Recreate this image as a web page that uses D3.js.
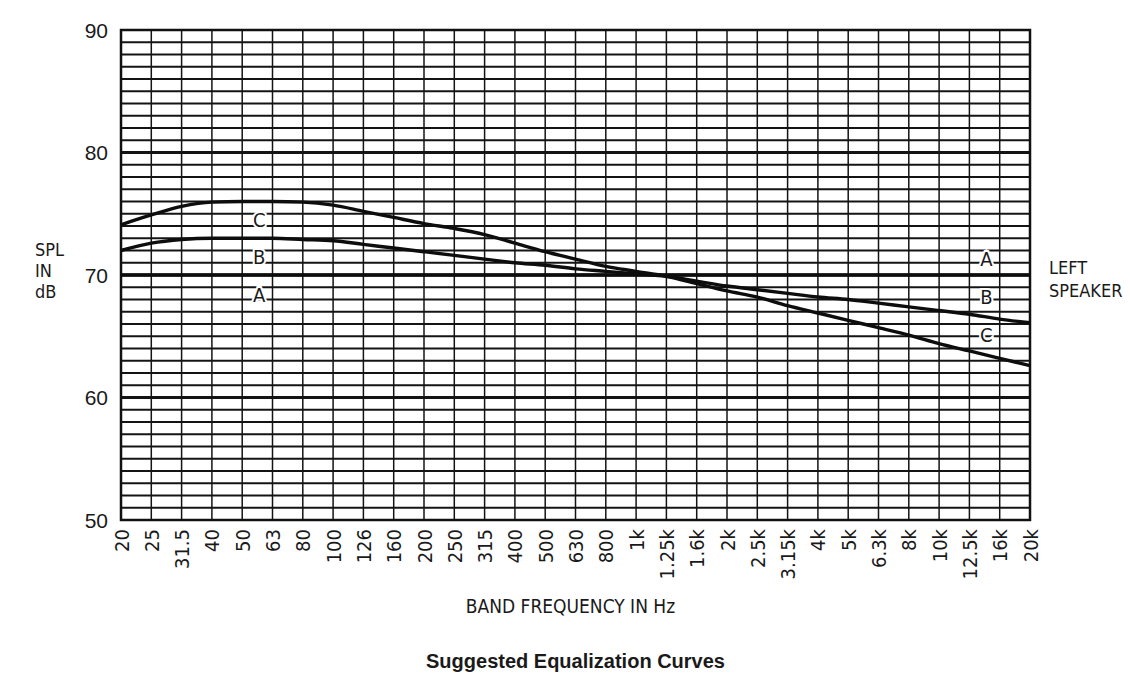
<!DOCTYPE html>
<html lang="en">
<head>
    <meta charset="UTF-8">
    <title>Suggested Equalization Curves</title>
    <script src="https://d3js.org/d3.v7.min.js"></script>
    <style>
        body { margin: 0; background: #fff; }
        text { font-family: "Liberation Sans Narrow", "DejaVu Sans Condensed", "Liberation Sans", sans-serif; fill: #1a1a1a; }
        .axis path { display: none; }
    </style>
</head>
<body>
<div id="vis"></div>
<script>
    // third-octave band centres
    var bands = ["20","25","31.5","40","50","63","80","100","126","160","200","250","315","400","500","630","800",
        "1k","1.25k","1.6k","2k","2.5k","3.15k","4k","5k","6.3k","8k","10k","12.5k","16k","20k"];

    var curveA = [70,70,70,70,70,70,70,70,70,70,70,70,70,70,70,70,70,70,70,70,70,70,70,70,70,70,70,70,70,70,70];
    var curveB = [72,72.6,72.9,73,73,73,72.9,72.8,72.5,72.2,71.9,71.6,71.3,71.0,70.8,70.5,70.3,
        70.1,69.9,69.5,69.1,68.8,68.5,68.2,68.0,67.7,67.4,67.1,66.8,66.4,66.1];
    var curveC = [74.1,74.9,75.6,75.95,76,76,75.95,75.7,75.2,74.7,74.2,73.8,73.3,72.6,71.9,71.3,70.7,
        70.3,69.9,69.3,68.7,68.2,67.5,66.9,66.3,65.7,65.1,64.4,63.8,63.2,62.6];

    var yTicks = [50, 60, 70, 80, 90];

    var width = 1130, height = 674;
    var margin = { top: 30, left: 121, right: 100, bottom: 154 };
    var w = width - margin.left - margin.right;
    var h = height - margin.top - margin.bottom;

    var svg = d3.select("#vis").append("svg")
        .attr("width", width)
        .attr("height", height);

    var g = svg.append("g")
        .attr("transform", "translate(" + margin.left + "," + margin.top + ")");

    var x = d3.scalePoint().domain(bands).range([0, w]);
    var y = d3.scaleLinear().domain([50, 90]).range([h, 0]);

    // minor horizontal grid, every dB
    g.append("g")
        .selectAll("line")
        .data(d3.range(51, 90))
        .enter().append("line")
        .attr("x1", 0).attr("x2", w)
        .attr("y1", function(d) { return y(d); })
        .attr("y2", function(d) { return y(d); })
        .attr("stroke", "#141414")
        .attr("stroke-width", function(d) { return d % 10 == 0 ? 2.8 : 2; });

    // vertical grid, one per band
    g.append("g")
        .selectAll("line")
        .data(bands)
        .enter().append("line")
        .attr("x1", function(d) { return x(d); })
        .attr("x2", function(d) { return x(d); })
        .attr("y1", 0).attr("y2", h)
        .attr("stroke", "#141414")
        .attr("stroke-width", 1.5);

    // frame
    g.append("rect")
        .attr("width", w).attr("height", h)
        .attr("fill", "none")
        .attr("stroke", "#111")
        .attr("stroke-width", 2.5);

    // axes
    var yAxis = g.append("g").attr("class", "axis")
        .call(d3.axisLeft(y).tickValues(yTicks).tickSize(0).tickPadding(13));
    yAxis.selectAll("text")
        .style("font-size", "21px")
        .style("font-family", "'Liberation Sans', sans-serif")
        .attr("dy", "0.35em");

    var xAxis = g.append("g").attr("class", "axis")
        .attr("transform", "translate(0," + h + ")")
        .call(d3.axisBottom(x).tickSize(0));
    xAxis.selectAll("text")
        .style("font-size", "20px")
        .attr("text-anchor", "end")
        .attr("transform", "rotate(-90)")
        .attr("x", -9)
        .attr("y", 0)
        .attr("dy", "0.35em");

    // curves
    var line = d3.line()
        .x(function(d, i) { return x(bands[i]); })
        .y(function(d) { return y(d); })
        .curve(d3.curveMonotoneX);

    [curveA, curveB, curveC].forEach(function(c) {
        g.append("path")
            .datum(c)
            .attr("d", line)
            .attr("fill", "none")
            .attr("stroke", "#0d0d0d")
            .attr("stroke-width", 3.4);
    });

    // curve letters
    var letters = [
        { t: "C", band: "50", v: 74.5 },
        { t: "B", band: "50", v: 71.5 },
        { t: "A", band: "50", v: 68.4 },
        { t: "A", band: "12.5k", v: 71.3 },
        { t: "B", band: "12.5k", v: 68.2 },
        { t: "C", band: "12.5k", v: 65.1 }
    ];
    g.append("g")
        .selectAll("text")
        .data(letters)
        .enter().append("text")
        .attr("x", function(d) { return x(d.band) + 17; })
        .attr("y", function(d) { return y(d.v); })
        .attr("dy", "0.36em")
        .attr("text-anchor", "middle")
        .style("font-size", "20px")
        .style("paint-order", "stroke")
        .style("stroke", "#fff")
        .style("stroke-width", "4px")
        .text(function(d) { return d.t; });

    // side labels
    svg.append("text")
        .attr("x", 35).attr("y", 256)
        .style("font-size", "18px")
        .selectAll("tspan")
        .data(["SPL", "IN", "dB"])
        .enter().append("tspan")
        .attr("x", 35)
        .attr("dy", function(d, i) { return i == 0 ? 0 : 21; })
        .text(function(d) { return d; });

    svg.append("text")
        .attr("x", 1049).attr("y", 274)
        .style("font-size", "18px")
        .selectAll("tspan")
        .data(["LEFT", "SPEAKER"])
        .enter().append("tspan")
        .attr("x", 1049)
        .attr("dy", function(d, i) { return i == 0 ? 0 : 23; })
        .text(function(d) { return d; });

    svg.append("text")
        .attr("x", margin.left + w / 2 - 5).attr("y", 613)
        .attr("text-anchor", "middle")
        .style("font-size", "19px")
        .text("BAND FREQUENCY IN Hz");

    svg.append("text")
        .attr("x", margin.left + w / 2).attr("y", 668)
        .attr("text-anchor", "middle")
        .style("font-size", "20px")
        .style("font-weight", "bold")
        .style("font-family", "'Liberation Sans', sans-serif")
        .text("Suggested Equalization Curves");
</script>
</body>
</html>
